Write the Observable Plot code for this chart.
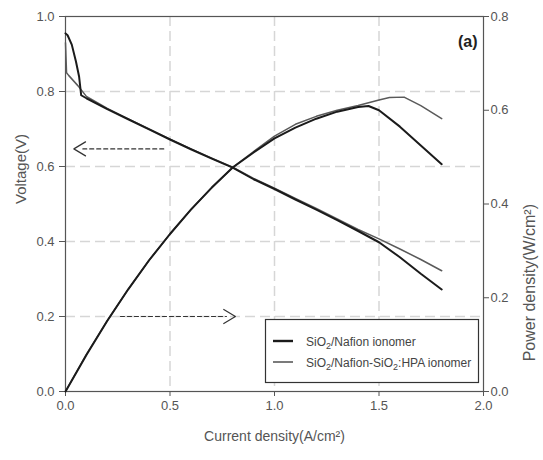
<!DOCTYPE html>
<html><head><meta charset="utf-8">
<script src="https://cdn.jsdelivr.net/npm/d3@7"></script>
<script src="https://cdn.jsdelivr.net/npm/@observablehq/plot@0.6"></script>
<style>
body{margin:0;background:#fff;}
#chart{width:543px;height:460px;}
</style></head><body><div id="chart"></div>
<script>
// ---- data ----
const seriesNames = ["SiO\u2082/Nafion ionomer", "SiO\u2082/Nafion-SiO\u2082:HPA ionomer"];

// SiO2/Nafion ionomer : voltage
const currentV1 = [0, 0.01, 0.03, 0.05, 0.065, 0.075, 0.1, 0.2, 0.3, 0.4, 0.5, 0.6, 0.7, 0.8, 0.9, 1.0, 1.1, 1.2, 1.3, 1.4, 1.5, 1.6, 1.7, 1.8];
const voltage1  = [0.955, 0.95, 0.925, 0.88, 0.84, 0.79, 0.782, 0.753, 0.726, 0.699, 0.672, 0.646, 0.621, 0.597, 0.566, 0.54, 0.512, 0.485, 0.457, 0.428, 0.398, 0.358, 0.314, 0.272];
// SiO2/Nafion-SiO2:HPA ionomer : voltage
const currentV2 = [0, 0.005, 0.015, 0.06, 0.1, 0.2, 0.3, 0.4, 0.5, 0.6, 0.7, 0.8, 0.9, 1.0, 1.1, 1.2, 1.3, 1.4, 1.5, 1.6, 1.7, 1.8];
const voltage2  = [0.93, 0.85, 0.843, 0.815, 0.787, 0.755, 0.727, 0.70, 0.673, 0.647, 0.622, 0.598, 0.568, 0.542, 0.515, 0.488, 0.46, 0.432, 0.407, 0.38, 0.352, 0.322];
// power density (W/cm2)
const currentP1 = [0, 0.1, 0.2, 0.3, 0.4, 0.5, 0.6, 0.7, 0.8, 0.9, 1.0, 1.1, 1.2, 1.3, 1.4, 1.45, 1.5, 1.6, 1.7, 1.8];
const power1    = [0, 0.078, 0.151, 0.218, 0.28, 0.336, 0.388, 0.435, 0.478, 0.51, 0.54, 0.563, 0.582, 0.597, 0.607, 0.609, 0.6, 0.565, 0.525, 0.485];
const currentP2 = [0, 0.1, 0.2, 0.3, 0.4, 0.5, 0.6, 0.7, 0.8, 0.9, 1.0, 1.1, 1.2, 1.3, 1.4, 1.5, 1.55, 1.62, 1.7, 1.8];
const power2    = [0, 0.079, 0.151, 0.218, 0.28, 0.336, 0.388, 0.435, 0.478, 0.512, 0.545, 0.57, 0.587, 0.6, 0.61, 0.622, 0.627, 0.628, 0.61, 0.582];

// axes / grid
const xTicks = [0, 0.5, 1.0, 1.5, 2.0];
const vTicks = [0, 0.2, 0.4, 0.6, 0.8, 1.0];
const pTicks = [0, 0.2, 0.4, 0.6, 0.8];
const pMax = 0.8;
const vMax = 1.0;
const xMax = 2.0;
const gridX = [0.5, 1.0, 1.5];
const gridV = [0.2, 0.4, 0.6, 0.8];

// arrow annotations (current start, current end, voltage level)
const arrowFrom = [0.47, 0.263];
const arrowTo   = [0.04, 0.813];
const arrowAt   = [0.647, 0.2];

const labelX = "Current density(A/cm\u00B2)";
const labelY = "Voltage(V)";
const labelY2 = "Power density(W/cm\u00B2)";
const panelTag = "(a)";

// ---- build ----
const v1 = currentV1.map((c, i) => ({c, v: voltage1[i]}));
const v2 = currentV2.map((c, i) => ({c, v: voltage2[i]}));
const p1 = currentP1.map((c, i) => ({c, p: power1[i]}));
const p2 = currentP2.map((c, i) => ({c, p: power2[i]}));
const arrows = arrowFrom.map((a, i) => ({x1: a, x2: arrowTo[i], y: arrowAt[i]}));

const NARROW = '"Liberation Sans Narrow","Arial Narrow","Liberation Sans",Arial,sans-serif';
const REG = '"Liberation Sans",Arial,sans-serif';
const W = 543, H = 460, ML = 65, MR = 60, MT = 16, MB = 69;
const pxPerUnit = (W - ML - MR) / xMax;

const c1 = "#1b1b1b", c2 = "#5a5a5a";
const headOpts = {stroke: "#333", strokeWidth: 1.2, headLength: 17, headAngle: 62};

const chart = Plot.plot({
  width: W, height: H,
  marginLeft: ML, marginRight: MR, marginTop: MT, marginBottom: MB,
  x: {domain: [0, xMax]},
  y: {domain: [0, vMax]},
  style: {fontFamily: NARROW, fontSize: "13px", color: "#555", background: "#fff", overflow: "visible"},
  marks: [
    Plot.ruleY(gridV, {stroke: "#d6d6d6", strokeWidth: 1.5, strokeDasharray: "10,5"}),
    Plot.ruleX(gridX, {stroke: "#d6d6d6", strokeWidth: 1.5, strokeDasharray: "10,5"}),
    Plot.frame({stroke: "#555", strokeWidth: 1.2}),
    Plot.axisX(xTicks, {tickSize: 5, tickPadding: 4, tickFormat: d => d.toFixed(1), label: null, stroke: "#555"}),
    Plot.axisY(vTicks, {tickSize: 6, tickPadding: 5, tickFormat: d => d.toFixed(1), label: null, stroke: "#555"}),
    Plot.axisY(pTicks.map(p => p / pMax * vMax), {anchor: "right", tickSize: 5, tickPadding: 2, tickFormat: d => (d * pMax / vMax).toFixed(1), label: null, stroke: "#555"}),
    // dashed arrow shafts
    Plot.arrow(arrows, {x1: "x1", x2: "x2", y1: "y", y2: "y", stroke: "#333", strokeWidth: 1.2, strokeDasharray: "4,3", headLength: 0, insetEnd: 9}),
    // arrow heads
    Plot.arrow([arrows[0]], {x1: "x1", x2: "x2", y1: "y", y2: "y", ...headOpts, insetStart: Math.abs(arrows[0].x2 - arrows[0].x1) * pxPerUnit - 1}),
    Plot.arrow([arrows[1]], {x1: "x1", x2: "x2", y1: "y", y2: "y", ...headOpts, insetStart: Math.abs(arrows[1].x2 - arrows[1].x1) * pxPerUnit - 1}),
    // curves
    Plot.line(v2, {x: "c", y: "v", stroke: c2, strokeWidth: 1.5}),
    Plot.line(p2, {x: "c", y: d => d.p / pMax * vMax, stroke: c2, strokeWidth: 1.5}),
    Plot.line(v1, {x: "c", y: "v", stroke: c1, strokeWidth: 2}),
    Plot.line(p1, {x: "c", y: d => d.p / pMax * vMax, stroke: c1, strokeWidth: 2}),
    // labels
    Plot.text([labelX], {frameAnchor: "bottom", dy: 49, fontSize: 14, fill: "#555"}),
    Plot.text([labelY], {frameAnchor: "left", dx: -44, rotate: -90, fontSize: 15, fontFamily: REG, fill: "#555"}),
    Plot.text([labelY2], {frameAnchor: "right", dx: 46, rotate: -90, fontSize: 16, fontFamily: REG, fill: "#555"}),
    Plot.text([panelTag], {frameAnchor: "top-right", dx: -6, dy: 19, textAnchor: "end", fontSize: 16, fontWeight: "bold", fill: "#222"})
  ]
});

// legend box inside the plot area (bottom-right)
const svg = d3.select(chart);
const lg = svg.append("g").attr("font-family", NARROW).attr("font-size", 12).attr("fill", "#333").attr("text-anchor", "start");
lg.append("rect").attr("x", 265.5).attr("y", 319.5).attr("width", 213).attr("height", 63)
  .attr("fill", "#fff").attr("stroke", "#333").attr("stroke-width", 1.2);
const entries = [
  {parts: ["SiO", "2", "/Nafion ionomer"], color: c1, sw: 2.4},
  {parts: ["SiO", "2", "/Nafion-SiO", "2", ":HPA ionomer"], color: c2, sw: 1.6}
];
entries.forEach((e, i) => {
  const y = 341 + i * 21;
  lg.append("line").attr("x1", 273).attr("x2", 293).attr("y1", y).attr("y2", y)
    .attr("stroke", e.color).attr("stroke-width", e.sw);
  const t = lg.append("text").attr("x", 306).attr("y", y + 4.5).attr("fill", "#444").attr("text-anchor", "start");
  e.parts.forEach((p, k) => {
    const sub = k % 2 === 1;
    t.append("tspan").attr("font-size", sub ? 9 : 12).attr("dy", sub ? 3 : (k > 0 ? -3 : 0)).text(p);
  });
});

document.getElementById("chart").appendChild(chart);
</script>
</body></html>
